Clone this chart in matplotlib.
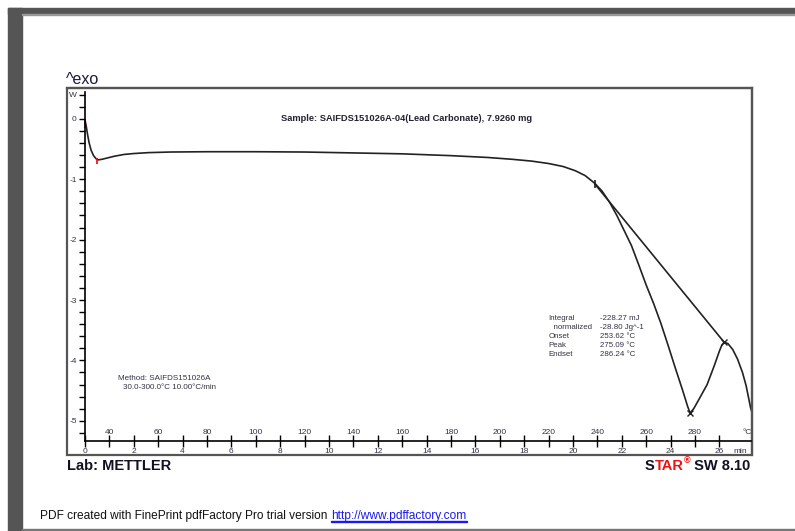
import numpy as np
import matplotlib
matplotlib.use("Agg")
import matplotlib.pyplot as plt
from matplotlib.patches import Rectangle

# DSC curve of lead carbonate, time in minutes, heat flow in W
time_min = [0.0, 0.05, 0.1, 0.17, 0.25, 0.35, 0.45, 0.55, 0.7, 0.9, 1.2, 1.6, 2.0,
            2.6, 3.5, 5.0, 7.0, 9.0, 11.0, 13.0, 15.0, 16.5, 17.5, 18.3, 19.0, 19.6,
            20.1, 20.5, 20.9, 21.2, 21.5, 21.8, 22.1, 22.4, 22.7, 23.0, 23.3, 23.6,
            23.9, 24.2, 24.5, 24.7, 24.8, 24.95, 25.2, 25.5, 25.8, 26.0, 26.1, 26.2,
            26.35, 26.55, 26.75, 26.95, 27.1, 27.2, 27.28, 27.34]
heat_flow = [-0.02, -0.12, -0.25, -0.40, -0.52, -0.61, -0.66, -0.68, -0.67, -0.65,
             -0.62, -0.59, -0.575, -0.56, -0.55, -0.545, -0.545, -0.55, -0.565, -0.58,
             -0.61, -0.64, -0.67, -0.70, -0.74, -0.79, -0.86, -0.94, -1.07, -1.20,
             -1.38, -1.60, -1.85, -2.10, -2.42, -2.75, -3.05, -3.38, -3.75, -4.13,
             -4.50, -4.76, -4.87, -4.80, -4.62, -4.40, -4.08, -3.85, -3.75, -3.70,
             -3.72, -3.82, -3.98, -4.20, -4.42, -4.62, -4.78, -4.86]

# integration baseline from onset region to the local maximum
base_t = [20.9, 26.2]
base_v = [-1.08, -3.70]

min_ticks = list(range(0, 27, 2))
temp_labels = list(range(40, 281, 20))     # 30 degC at t=0, 10 degC/min
result_names = ["Integral", "  normalized", "Onset", "Peak", "Endset"]
result_values = ["-228.27 mJ", "-28.80 Jg^-1", "253.62 \u00b0C", "275.09 \u00b0C", "286.24 \u00b0C"]

plt.rcParams['font.family'] = ['Liberation Sans', 'DejaVu Sans']
fig = plt.figure(figsize=(7.95, 5.31), dpi=100)
W, H = 795.0, 531.0
txt = "#333344"

# page frame (grey bands of the pdf viewer)
grey = "#555555"
fig.patches.append(Rectangle((8/W, 0), 14/W, 1 - 8/H, transform=fig.transFigure, color=grey))
fig.patches.append(Rectangle((8/W, 1 - 14/H), 1, 6/H, transform=fig.transFigure, color=grey))
fig.patches.append(Rectangle((22/W, 1 - 15/H), 1, 1.2/H, transform=fig.transFigure, color="#999999"))
fig.patches.append(Rectangle((22/W, 0), 1, 2/H, transform=fig.transFigure, color="#777777"))

ax = fig.add_axes([67/W, 1 - 455/H, 685/W, 367/H])
ax.set_xlim(-0.738, 27.34)
ax.set_ylim(-5.566, 0.51)

ax.plot(time_min, heat_flow, color="#222222", lw=1.2)
ax.plot(base_t, base_v, color="#222222", lw=1.2)

# evaluation markers
ax.plot([0.0, 0.5], [-0.1, -0.7], ls="none", marker="|", ms=5, mew=1.2, color="red")
ax.plot([20.9], [-1.08], ls="none", marker="|", ms=6, mew=1.2, color="#222222")
ax.plot([24.8, 26.2], [-4.87, -3.70], ls="none", marker="x", ms=4, mew=1, color="#222222")

# axes: outer box plus inner axis lines
for s in ["top", "right"]:
    ax.spines[s].set_color("#555555")
    ax.spines[s].set_linewidth(1.6)
ax.add_patch(Rectangle((0, 0), 1, 1, transform=ax.transAxes, fill=False,
                       ec="#555555", lw=1.6, clip_on=False))
ax.spines["left"].set_position(("data", 0))
ax.spines["left"].set_bounds(-5.33, 0.45)
ax.spines["bottom"].set_position(("data", -5.33))
ax.spines["bottom"].set_bounds(0, 27.3)
ax.spines["left"].set_linewidth(1.2)
ax.spines["bottom"].set_linewidth(1.2)

ax.set_yticks([0.4, 0, -1, -2, -3, -4, -5])
ax.set_yticklabels(["W", "0", "-1", "-2", "-3", "-4", "-5"])
ax.set_yticks(np.arange(-5.2, 0.41, 0.2), minor=True)
ax.tick_params(axis="y", which="both", direction="out", length=4, width=1,
               labelsize=6, pad=2, labelcolor=txt)

ax.set_xticks(min_ticks)
ax.set_xticklabels([str(m) for m in min_ticks])
ax.set_xticks(range(1, 27, 2), minor=True)
ax.tick_params(axis="x", which="both", direction="inout", length=8, width=1,
               labelsize=6, pad=1, labelcolor=txt)

for i, T in enumerate(temp_labels):
    ax.text(1 + 2 * i, -5.2, str(T), ha="center", va="center", fontsize=6, color=txt)
ax.text(27.15, -5.2, "\u00b0C", ha="center", va="center", fontsize=6, color=txt)
ax.text(26.85, -5.5, "min", ha="center", va="center", fontsize=6, color=txt)

ax.text(13.2, 0.0, "Sample: SAIFDS151026A-04(Lead Carbonate), 7.9260 mg",
        ha="center", va="center", fontsize=6.7, fontweight="bold", color="#222233")
ax.text(1.35, -4.3, "Method: SAIFDS151026A", fontsize=5.8, color=txt, va="center")
ax.text(1.55, -4.45, "30.0-300.0\u00b0C 10.00\u00b0C/min", fontsize=5.8, color=txt, va="center")

for i, (n, v) in enumerate(zip(result_names, result_values)):
    y = -3.3 - 0.149 * i
    ax.text(19.0, y, n, fontsize=5.7, color=txt, va="center")
    ax.text(21.1, y, v, fontsize=5.7, color=txt, va="center")

# header and footer texts
fig.text(66/W, 1 - 80/H, "^exo", fontsize=11.5, color="#1a1a3a", va="center")
fig.text(67/W, 1 - 466/H, "Lab: METTLER", fontsize=10.5, fontweight="bold",
         color="#111122", va="center")

renderer = fig.canvas.get_renderer()

# STAR(R) SW 8.10, laid out piece by piece from the left
x_px = 645.0
for piece, col, size, dy in [("S", "#111122", 10.5, 0), ("TAR", "#ee1111", 10.5, 0),
                             ("\u00ae", "#ee1111", 6.5, 5), (" SW 8.10", "#111122", 10.5, 0)]:
    t = fig.text(x_px / W, 1 - (466 - dy) / H, piece, fontsize=size, fontweight="bold",
                 color=col, va="center")
    x_px += t.get_window_extent(renderer).width

# footer line with the link right after it
t = fig.text(40/W, 1 - 516/H, "PDF created with FinePrint pdfFactory Pro trial version",
             fontsize=8.6, color="#111111", va="center")
x_link = 40 + t.get_window_extent(renderer).width + 4
t2 = fig.text(x_link / W, 1 - 516/H, "http://www.pdffactory.com", fontsize=8.6,
              color="#1a1aee", va="center")
lw_px = t2.get_window_extent(renderer).width
fig.patches.append(Rectangle((x_link / W, 1 - 522/H), lw_px / W, 0.9/H,
                             transform=fig.transFigure, color="#1a1aee"))

fig.savefig("out.png", dpi=100)
